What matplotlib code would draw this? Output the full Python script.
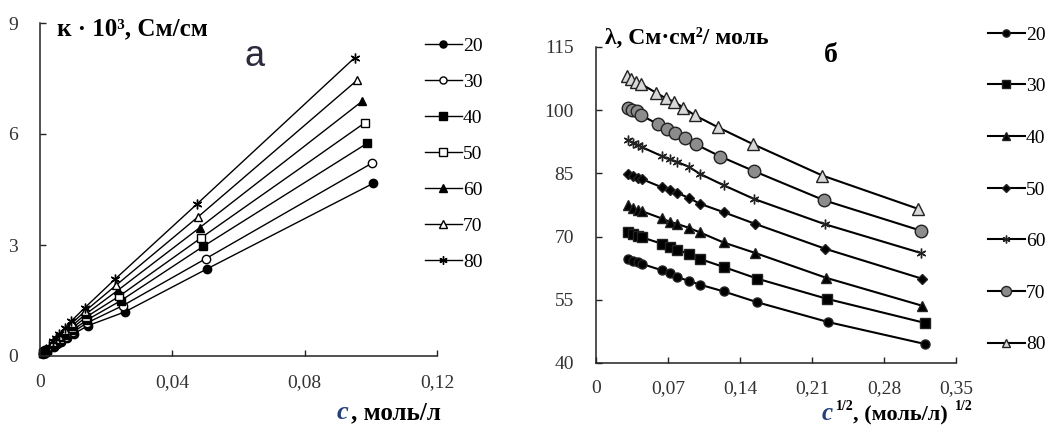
import matplotlib
matplotlib.use("Agg")
import matplotlib.pyplot as plt
from matplotlib.ticker import FuncFormatter

plt.rcParams["font.family"] = ["Liberation Serif", "DejaVu Serif"]

W, H = 1051, 430

temps = ["20", "30", "40", "50", "60", "70", "80"]

# --- panel a: conductivity kappa*10^3 vs c ---
c_20 = [0.0010, 0.0013, 0.0017, 0.0021, 0.0041, 0.0052, 0.0062, 0.0081, 0.0102, 0.0145, 0.0256, 0.0506, 0.1008]
c_30 = [0.0010, 0.0013, 0.0017, 0.0021, 0.0041, 0.0051, 0.0061, 0.0080, 0.0100, 0.0143, 0.0250, 0.0501, 0.1003]
c_40 = [0.0010, 0.0013, 0.0016, 0.0020, 0.0040, 0.0050, 0.0060, 0.0079, 0.0099, 0.0141, 0.0245, 0.0493, 0.0989]
c_50 = [0.0010, 0.0012, 0.0016, 0.0020, 0.0040, 0.0050, 0.0060, 0.0078, 0.0098, 0.0139, 0.0240, 0.0488, 0.0983]
c_60 = [0.0009, 0.0012, 0.0016, 0.0020, 0.0039, 0.0049, 0.0059, 0.0077, 0.0097, 0.0138, 0.0236, 0.0483, 0.0973]
c_70 = [0.0009, 0.0012, 0.0015, 0.0019, 0.0039, 0.0049, 0.0058, 0.0076, 0.0096, 0.0136, 0.0231, 0.0479, 0.0958]
c_80 = [0.0009, 0.0012, 0.0015, 0.0019, 0.0038, 0.0048, 0.0057, 0.0075, 0.0095, 0.0135, 0.0226, 0.0476, 0.0951]

k_20 = [0.06, 0.08, 0.11, 0.13, 0.25, 0.32, 0.37, 0.48, 0.60, 0.82, 1.19, 2.36, 4.67]
k_30 = [0.07, 0.09, 0.12, 0.15, 0.28, 0.34, 0.40, 0.52, 0.65, 0.90, 1.36, 2.63, 5.21]
k_40 = [0.07, 0.10, 0.12, 0.15, 0.30, 0.37, 0.44, 0.57, 0.70, 0.97, 1.50, 2.96, 5.75]
k_50 = [0.08, 0.10, 0.13, 0.17, 0.32, 0.40, 0.47, 0.61, 0.76, 1.05, 1.62, 3.20, 6.31]
k_60 = [0.08, 0.11, 0.14, 0.18, 0.35, 0.43, 0.51, 0.66, 0.82, 1.13, 1.78, 3.47, 6.88]
k_70 = [0.09, 0.12, 0.15, 0.19, 0.38, 0.47, 0.55, 0.71, 0.88, 1.21, 1.92, 3.77, 7.45]
k_80 = [0.10, 0.13, 0.16, 0.20, 0.41, 0.50, 0.59, 0.76, 0.95, 1.30, 2.07, 4.12, 8.06]

# --- panel b: molar conductivity lambda vs sqrt(c) ---
s_20 = [0.031, 0.036, 0.041, 0.045, 0.064, 0.072, 0.079, 0.090, 0.101, 0.124, 0.157, 0.226, 0.320]
s_30 = [0.031, 0.036, 0.041, 0.045, 0.064, 0.072, 0.079, 0.090, 0.101, 0.124, 0.157, 0.225, 0.320]
s_40 = [0.031, 0.036, 0.041, 0.045, 0.064, 0.072, 0.079, 0.090, 0.101, 0.124, 0.155, 0.224, 0.317]
s_50 = [0.031, 0.036, 0.041, 0.045, 0.064, 0.072, 0.079, 0.090, 0.101, 0.124, 0.155, 0.223, 0.317]
s_60 = [0.031, 0.036, 0.041, 0.045, 0.064, 0.072, 0.079, 0.090, 0.101, 0.124, 0.154, 0.223, 0.316]
s_70 = [0.031, 0.035, 0.040, 0.044, 0.060, 0.069, 0.077, 0.087, 0.097, 0.121, 0.154, 0.222, 0.316]
s_80 = [0.030, 0.034, 0.039, 0.044, 0.058, 0.068, 0.076, 0.085, 0.096, 0.119, 0.153, 0.220, 0.313]

l_20 = [64.8, 64.3, 63.9, 63.5, 62.0, 61.4, 60.4, 59.5, 58.6, 57.0, 54.4, 49.7, 44.5]
l_30 = [71.1, 70.7, 70.2, 69.8, 68.3, 67.5, 66.9, 65.9, 64.7, 62.8, 60.0, 55.2, 49.5]
l_40 = [77.5, 76.8, 76.4, 76.0, 74.3, 73.5, 73.0, 72.1, 71.0, 68.6, 66.1, 60.2, 53.6]
l_50 = [84.9, 84.3, 84.0, 83.6, 81.7, 81.0, 80.4, 79.2, 77.8, 75.8, 73.0, 67.1, 60.0]
l_60 = [92.9, 92.3, 91.7, 91.2, 89.1, 88.3, 87.7, 86.6, 84.9, 82.2, 78.9, 72.9, 66.1]
l_70 = [100.5, 100.1, 99.8, 98.8, 96.7, 95.5, 94.5, 93.3, 91.9, 89.0, 85.5, 78.6, 71.4]
l_80 = [108.0, 107.4, 106.6, 106.2, 104.2, 102.8, 102.0, 100.6, 98.8, 95.9, 91.9, 84.5, 76.6]

x_a = [c_20, c_30, c_40, c_50, c_60, c_70, c_80]
y_a = [k_20, k_30, k_40, k_50, k_60, k_70, k_80]
x_b = [s_20, s_30, s_40, s_50, s_60, s_70, s_80]
y_b = [l_20, l_30, l_40, l_50, l_60, l_70, l_80]

star = (6, 2, 0)
# marker, size, face colour
style_a = [("o", 6, "black"), ("o", 6, "white"), ("s", 6, "black"), ("s", 6, "white"),
           ("^", 6, "black"), ("^", 6, "white"), (star, 7, "black")]
style_b = [("o", 6.5, "black"), ("s", 7, "black"), ("^", 6.5, "black"), ("D", 5.5, "black"),
           (star, 7, "black"), ("o", 9, "#8c8c8c"), ("^", 8, "#d8d8d8")]

fig = plt.figure(figsize=(W / 100, H / 100), dpi=100)

def px(x, y):
    return x / W, 1 - y / H

def setup(ax, xpad):
    for s in ["top", "right"]:
        ax.spines[s].set_visible(False)
    for s in ["left", "bottom"]:
        ax.spines[s].set_linewidth(1.1)
        ax.spines[s].set_color("#222222")
    ax.tick_params(direction="in", length=4, width=1, colors="#222222",
                   labelsize=14, labelcolor="#333333")
    ax.tick_params(axis="y", pad=16)
    ax.tick_params(axis="x", pad=xpad)

comma = FuncFormatter(lambda v, p: "0" if abs(v) < 1e-9 else ("%g" % round(v, 2)).replace(".", ","))

# panel a
ax1 = fig.add_axes([40 / W, 1 - 356 / H, 397 / W, 333 / H])
setup(ax1, 13)
for xs, ys, (m, ms, fc), t in zip(x_a, y_a, style_a, temps):
    ax1.plot(xs, ys, color="black", lw=1.0, marker=m, ms=ms, mfc=fc, mec="black",
             mew=1.0, label=t, clip_on=False)
ax1.set_xlim(0, 0.12)
ax1.set_ylim(0, 9)
ax1.set_xticks([0, 0.04, 0.08, 0.12])
ax1.set_yticks([0, 3, 6, 9])
ax1.xaxis.set_major_formatter(comma)
ax1.legend(loc="upper left", bbox_to_anchor=px(425, 37), bbox_transform=fig.transFigure,
           frameon=False, fontsize=14, handlelength=1.9, handletextpad=0.05,
           labelspacing=0.95, borderpad=0, borderaxespad=0, markerscale=0.85)

# panel b
ax2 = fig.add_axes([596 / W, 1 - 363 / H, 360 / W, 316 / H])
setup(ax2, 12)
for xs, ys, (m, ms, fc), t in zip(x_b, y_b, style_b, temps):
    ax2.plot(xs, ys, color="black", lw=1.5, marker=m, ms=ms, mfc=fc, mec="#222222",
             mew=1.0, label=t, clip_on=False)
ax2.set_xlim(0, 0.35)
ax2.set_ylim(40, 115)
ax2.set_xticks([0, 0.07, 0.14, 0.21, 0.28, 0.35])
ax2.set_yticks([40, 55, 70, 85, 100, 115])
ax2.xaxis.set_major_formatter(comma)
ax2.legend(loc="upper left", bbox_to_anchor=px(988, 26), bbox_transform=fig.transFigure,
           frameon=False, fontsize=14, handlelength=1.9, handletextpad=0.05,
           labelspacing=1.75, borderpad=0, borderaxespad=0, markerscale=0.8)

# titles and axis labels
navy = "#23407a"
fig.text(*px(57, 29), "к · 10³, См/см", fontsize=18, fontweight="bold", va="center", ha="left")
fig.text(*px(255, 56), "а", fontsize=26, family="Liberation Sans", color="#2b2b3b",
         va="center", ha="center")
fig.text(*px(605, 38), "λ, См·см²/ моль", fontsize=17, fontweight="bold", va="center", ha="left")
fig.text(*px(831, 55), "б", fontsize=20, fontweight="bold", va="center", ha="center")

fig.text(*px(337, 419), "c", fontsize=19, style="italic", fontweight="bold", color=navy,
         va="baseline", ha="left")
fig.text(*px(351, 419), ", моль/л", fontsize=18, fontweight="bold", va="baseline", ha="left")

fig.text(*px(822, 420), "c", fontsize=18, style="italic", fontweight="bold", color=navy,
         va="baseline", ha="left")
fig.text(*px(836, 410), "1/2", fontsize=10, fontweight="bold", va="baseline", ha="left")
fig.text(*px(853, 420), ", (моль/л)", fontsize=16, fontweight="bold", va="baseline", ha="left")
fig.text(*px(955, 410), "1/2", fontsize=10, fontweight="bold", va="baseline", ha="left")

fig.savefig("out.png", dpi=100)
